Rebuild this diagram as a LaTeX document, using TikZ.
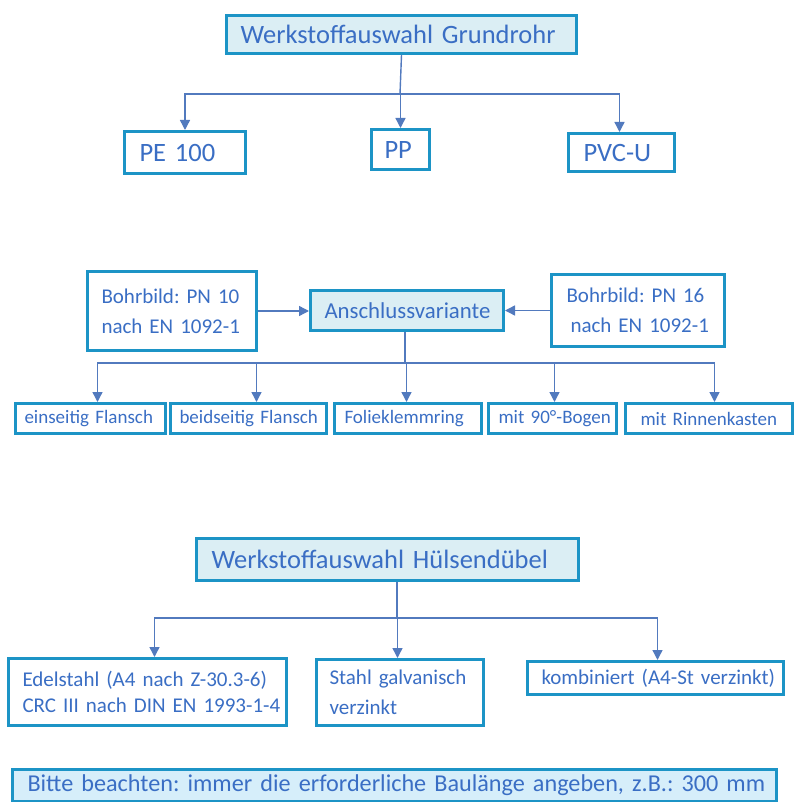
\documentclass[tikz,border=0pt]{standalone}
\usepackage{fontspec}
\setmainfont{Carlito}
\usetikzlibrary{arrows.meta,calc}
\definecolor{bordc}{RGB}{28,148,198}
\definecolor{fillc}{RGB}{219,238,244}
\definecolor{notefill}{RGB}{214,238,250}
\definecolor{txtc}{RGB}{58,110,196}
\definecolor{arrc}{RGB}{82,122,190}
\newcommand\fsz[2]{\fontsize{#1}{#2}\selectfont\frenchspacing}
\tikzset{
  box/.style={draw=bordc, line width=3pt, fill=white, text=txtc, anchor=north west,
    align=left, inner ysep=0pt},
  hbox/.style={box, fill=fillc},
  ln/.style={draw=arrc, line width=1.4pt},
  arr/.style={ln, -{Triangle[length=10pt,width=10pt]}},
  fA/.style={font=\fsz{26.5}{30}},
  fB/.style={font=\fsz{21}{30}},
  fBe/.style={font=\fsz{21}{26}},
  fC/.style={font=\fsz{19}{22}},
}
\begin{document}
\begin{tikzpicture}[x=1pt,y=-1pt]
\useasboundingbox (0,0) rectangle (797,802);

% --- section 1
\node[hbox,fA,minimum width=350pt,minimum height=38pt,inner xsep=14pt,text width=322pt] (top) at (225,14) {\mbox{Werkstoffauswahl Grundrohr}};
\node[box,fA,minimum width=121pt,minimum height=42pt,inner xsep=15pt,text width=91pt] (pe) at (123,130) {\mbox{PE 100}};
\node[box,fA,minimum width=58pt,minimum height=40pt,inner xsep=13pt,text width=32pt] (pp) at (370,128) {\mbox{PP}};
\node[box,fA,minimum width=106pt,minimum height=38pt,inner xsep=15pt,text width=76pt] (pvc) at (567,132) {\mbox{PVC-U}};

\coordinate (j1) at (400,94);
\draw[ln] (top.south) -- (j1);
\draw[arr] (j1) -| (pe.north);
\draw[arr] (j1) -| (pp.north);
\draw[arr] (j1) -| ([xshift=-2pt]pvc.north);

% --- section 2
\node[box,fB,minimum width=169pt,minimum height=79pt,inner xsep=14pt,text width=141pt] (pn10) at (86,270) {\mbox{Bohrbild: PN 10}\\\mbox{nach EN 1092-1}};
\node[hbox,font=\fsz{22.8}{26},minimum width=193pt,minimum height=40pt,inner xsep=14pt,text width=165pt] (ans) at (309,289) {\mbox{Anschlussvariante}};
\node[box,fB,minimum width=173pt,minimum height=72pt,inner xsep=15pt,text width=143pt] (pn16) at (550,273) {\mbox{Bohrbild: PN 16}\\\mbox{\hspace*{4pt}nach EN 1092-1}};

\draw[arr] (pn10.east) -- (pn10.east -| ans.west);
\draw[arr] (pn16.west) -- (pn16.west -| ans.east);

\node[box,fC,minimum width=150pt,minimum height=30pt,inner xsep=9pt,text width=132pt] (b1) at (14,402) {\mbox{einseitig Flansch}};
\node[box,fC,minimum width=156pt,minimum height=30pt,inner xsep=9pt,text width=138pt] (b2) at (169,402) {\mbox{beidseitig Flansch}};
\node[box,fC,minimum width=147pt,minimum height=30pt,inner xsep=10pt,text width=127pt] (b3) at (333,402) {\mbox{Folieklemmring}};
\node[box,fC,minimum width=128pt,minimum height=30pt,inner xsep=10pt,text width=108pt] (b4) at (487,402) {\mbox{mit 90°-Bogen}};
\node[box,fC,minimum width=167pt,minimum height=30pt,inner xsep=15pt,text width=137pt] (b5) at (624,402) {\mbox{mit Rinnenkasten}};

\coordinate (j2) at (405,363);
\draw[ln] (ans.south -| j2) -- (j2);
\draw[arr] (j2) -| ([xshift=7pt]b1.north);
\draw[arr] (j2) -| ([xshift=8pt]b2.north);
\draw[arr] (j2) -| ([xshift=-1.5pt]b3.north);
\draw[arr] (j2) -| ([xshift=2pt]b4.north);
\draw[arr] (j2) -| ([xshift=5.5pt]b5.north);

% --- section 3
\node[hbox,fA,minimum width=382pt,minimum height=42pt,inner xsep=15pt,text width=352pt] (huel) at (195,537) {\mbox{Werkstoffauswahl Hülsendübel}};
\node[box,fBe,minimum width=278pt,minimum height=67pt,inner xsep=14pt,text width=250pt] (edel) at (7,657) {\mbox{Edelstahl (A4 nach Z-30.3-6)}\\\mbox{CRC III nach DIN EN 1993-1-4}};
\node[box,fB,minimum width=167pt,minimum height=66pt,inner xsep=13pt,text width=141pt] (stahl) at (315,658) {\mbox{Stahl galvanisch}\\\mbox{verzinkt}};
\node[box,fB,minimum width=256pt,minimum height=33pt,inner xsep=14pt,text width=228pt] (komb) at (526,660) {\mbox{kombiniert (A4-St verzinkt)}};

\coordinate (j3) at (397,618);
\draw[ln] (huel.south -| j3) -- (j3);
\draw[arr] (j3) -| ([xshift=7pt]edel.north);
\draw[arr] (j3) -| ([xshift=-2.5pt]stahl.north);
\draw[arr] (j3) -| ([xshift=2pt]komb.north);

% --- note
\node[box,fill=notefill,font=\fsz{24.2}{28},minimum width=764pt,minimum height=32pt,inner xsep=15pt,text width=734pt] (note) at (11,768) {\mbox{Bitte beachten: immer die erforderliche Baulänge angeben, z.B.: 300 mm}};
\end{tikzpicture}
\end{document}
